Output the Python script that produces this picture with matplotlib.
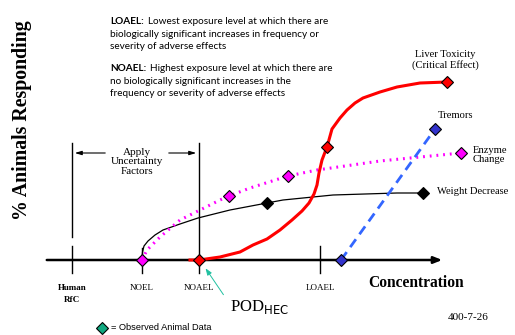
import matplotlib
matplotlib.use("Agg")
import matplotlib.pyplot as plt

# diagram units: x = concentration position, y = % responding (0 on the axis)
liver_x = [190, 199, 220, 240, 253, 267, 280, 292, 302, 309, 314, 317, 319, 322, 327, 332, 340, 347, 355, 363, 380, 397, 420, 447]
liver_y = [0, 0, 3, 8, 15, 21, 30, 40, 49, 57, 66, 75, 87, 100, 113, 131, 142, 150, 157, 162, 168, 173, 177, 178]
liver_mx = [199, 327, 447]
liver_my = [0, 113, 178]

enzyme_x = [142, 147, 160, 180, 200, 220, 229, 250, 288, 317, 380, 461]
enzyme_y = [0, 10, 23, 40, 50, 60, 64, 72, 84, 90, 99, 107]
enzyme_mx = [142, 229, 288, 461]
enzyme_my = [0, 64, 84, 107]

weight_x = [142, 142.5, 144, 148, 155, 163, 180, 198, 230, 267, 283, 333, 397, 423]
weight_y = [0, 8, 14, 19, 25, 30, 36, 42, 50, 57, 60, 65, 67, 67]
weight_mx = [267, 423]
weight_my = [57, 67]

tremor_x = [341, 435]
tremor_y = [0, 131]

tick_pos = [72, 142, 199, 320]
tick_labels = ["Human\nRfC", "NOEL", "NOAEL", "LOAEL"]

definitions = [
    ("LOAEL:", "Lowest exposure level at which there are\n"
               "biologically significant increases in frequency or\n"
               "severity of adverse effects"),
    ("NOAEL:", "Highest exposure level at which there are\n"
               "no biologically significant increases in the\n"
               "frequency or severity of adverse effects"),
]

serif = "Liberation Serif"
sans = "Lato"

fig = plt.figure(figsize=(5.15, 3.35), dpi=100)
ax = fig.add_axes([0, 0, 1, 1])
ax.set_xlim(0, 515)
ax.set_ylim(-75, 260)
ax.axis("off")

# axes with arrows
ax.annotate("", xy=(45, 262), xytext=(45, -1),
            arrowprops=dict(arrowstyle="-|>,head_length=0.5,head_width=0.2", lw=1.8, color="black"))
ax.annotate("", xy=(445, 0), xytext=(44, 0),
            arrowprops=dict(arrowstyle="-|>,head_length=0.5,head_width=0.2", lw=1.8, color="black"))

# tick lines
ax.plot([72, 72], [-13, 14], color="black", lw=1)
ax.plot([72, 72], [23, 117], color="black", lw=1)
ax.plot([142, 142], [-13, 12], color="black", lw=1)
ax.plot([199, 199], [-13, 117], color="black", lw=1)
ax.plot([320, 320], [-13, 14], color="black", lw=1)
for x, lab in zip(tick_pos, tick_labels):
    bold = "bold" if "Human" in lab else "normal"
    ax.text(x, -34 if bold == "bold" else -28, lab, ha="center", va="center", fontsize=6.5,
            family=serif, fontweight=bold, linespacing=1.5)

# uncertainty bracket
ax.annotate("", xy=(72, 107), xytext=(108, 107),
            arrowprops=dict(arrowstyle="-|>,head_length=0.4,head_width=0.12", lw=0.8, color="black"))
ax.annotate("", xy=(199, 107), xytext=(166, 107),
            arrowprops=dict(arrowstyle="-|>,head_length=0.4,head_width=0.12", lw=0.8, color="black"))
ax.text(137, 98, "Apply\nUncertainty\nFactors", ha="center", va="center",
        fontsize=8, family=serif, linespacing=1.1)

# curves
ax.plot(weight_x, weight_y, color="black", lw=0.9, zorder=3)
ax.plot(enzyme_x, enzyme_y, color="#ff00ff", lw=2.2, linestyle=(0, (0.6, 1.6)), zorder=3)
ax.plot(liver_x, liver_y, color="#ff0000", lw=2.2, zorder=4)
ax.plot(tremor_x, tremor_y, color="#3366ff", lw=2, linestyle=(0, (3.5, 2.2)), zorder=3)

mk = dict(marker="D", markersize=6, markeredgecolor="black", markeredgewidth=0.8,
          linestyle="none", zorder=6)
ax.plot(weight_mx, weight_my, markerfacecolor="black", **mk)
ax.plot(enzyme_mx, enzyme_my, markerfacecolor="#ff00ff", **mk)
ax.plot(liver_mx, liver_my, markerfacecolor="#ff0000", **mk)
ax.plot(tremor_x, tremor_y, markerfacecolor="#3333cc", **mk)

# curve labels
ax.text(445, 200, "Liver Toxicity\n(Critical Effect)", ha="center", va="center",
        fontsize=7.6, family=serif, linespacing=1.05)
ax.text(455, 145, "Tremors", ha="center", va="center", fontsize=7.6, family=serif)
ax.text(473, 105, "Enzyme\nChange", ha="left", va="center", fontsize=7.6, family=serif,
        linespacing=1.05)
ax.text(437, 69, "Weight Decrease", ha="left", va="center", fontsize=7.6, family=serif)

# definitions
fig.canvas.draw()
renderer = fig.canvas.get_renderer()
for (head, body), ytop in zip(definitions, [243, 196]):
    t = ax.text(110, ytop, head, ha="left", va="top", fontsize=7.2, family=sans,
                fontweight="bold")
    ext = t.get_window_extent(renderer)
    x_end = ax.transData.inverted().transform((ext.x1, ext.y0))[0]
    first, rest = body.split("\n", 1)
    ax.text(x_end + 4, ytop, first, ha="left", va="top", fontsize=7.2, family=sans)
    ax.text(110, ytop - 12.6, rest, ha="left", va="top", fontsize=7.2, family=sans,
            linespacing=1.45)

# axis titles
ax.text(22, 140, "% Animals Responding", rotation=90, ha="center", va="center",
        fontsize=14.3, family=serif, fontweight="bold")
ax.text(416, -23, "Concentration", ha="center", va="center", fontsize=11.2,
        family=serif, fontweight="bold")

# POD arrow
ax.annotate("", xy=(204, -6), xytext=(225, -37),
            arrowprops=dict(arrowstyle="-|>,head_length=0.4,head_width=0.15", lw=0.7,
                            color="#20c0a0"))
ax.text(230, -47, "POD$_{\\mathrm{HEC}}$", ha="left", va="center", fontsize=12, family=serif)

# legend
ax.plot([102], [-68], marker="D", markersize=6, markerfacecolor="#10a880",
        markeredgecolor="black", markeredgewidth=0.8, linestyle="none")
ax.text(111, -68, "= Observed Animal Data", ha="left", va="center", fontsize=6.7,
        family="Liberation Sans")
ax.text(468, -58, "400-7-26", ha="center", va="center", fontsize=8, family=serif)

fig.savefig("out.png", dpi=100)
